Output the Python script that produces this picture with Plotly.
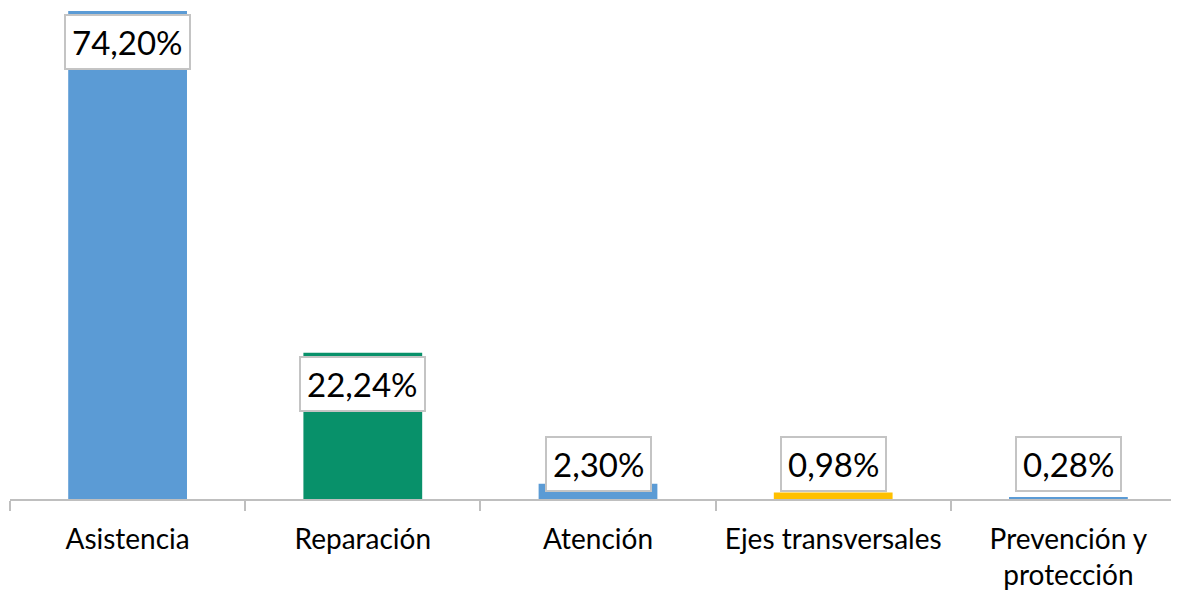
import plotly.graph_objects as go

categories = ["Asistencia", "Reparación", "Atención", "Ejes transversales", "Prevención y<br>protección"]
values = [74.20, 22.24, 2.30, 0.98, 0.28]
value_labels = ["74,20%", "22,24%", "2,30%", "0,98%", "0,28%"]
bar_colors = ["#5B9BD5", "#08916A", "#5B9BD5", "#FFC000", "#5B9BD5"]

FONT = "Lato, 'Open Sans', sans-serif"

fig = go.Figure(
    go.Bar(
        x=categories,
        y=values,
        marker=dict(color=bar_colors, line=dict(width=0)),
        width=0.505,
        hoverinfo="skip",
    )
)

annotations = []
for cat, v, lab in zip(categories, values, value_labels):
    if v > 10:
        annotations.append(dict(x=cat, y=v, xref="x", yref="y", text=lab, showarrow=False,
                                yanchor="top", yshift=-3))
    else:
        annotations.append(dict(x=cat, y=0, xref="x", yref="y", text=lab, showarrow=False,
                                yanchor="bottom", yshift=7))
for a in annotations:
    a.update(font=dict(family=FONT, size=33, color="#000000"), bgcolor="#FFFFFF",
             bordercolor="#C4C4C4", borderwidth=2, borderpad=6)

# page body has an 8px default margin: compensate in the figure margins
fig.update_layout(
    width=1179, height=592,
    margin=dict(l=2, r=1, t=0, b=101, autoexpand=False),
    paper_bgcolor="#FFFFFF", plot_bgcolor="#FFFFFF",
    showlegend=False,
    annotations=annotations,
    font=dict(family=FONT, color="#000000"),
    xaxis=dict(
        type="category",
        range=[-0.5, 4.5],
        showline=True, linecolor="#BFBFBF", linewidth=2,
        ticks="outside", tickson="boundaries", ticklen=10, tickcolor="#BFBFBF", tickwidth=2,
        tickfont=dict(family=FONT, size=28, color="#000000"),
        ticklabelstandoff=14,
        showgrid=False, zeroline=False, fixedrange=True,
    ),
    yaxis=dict(
        range=[0, 74.65],
        visible=False, showgrid=False, zeroline=False, fixedrange=True,
    ),
)

fig.write_html("out.html")
